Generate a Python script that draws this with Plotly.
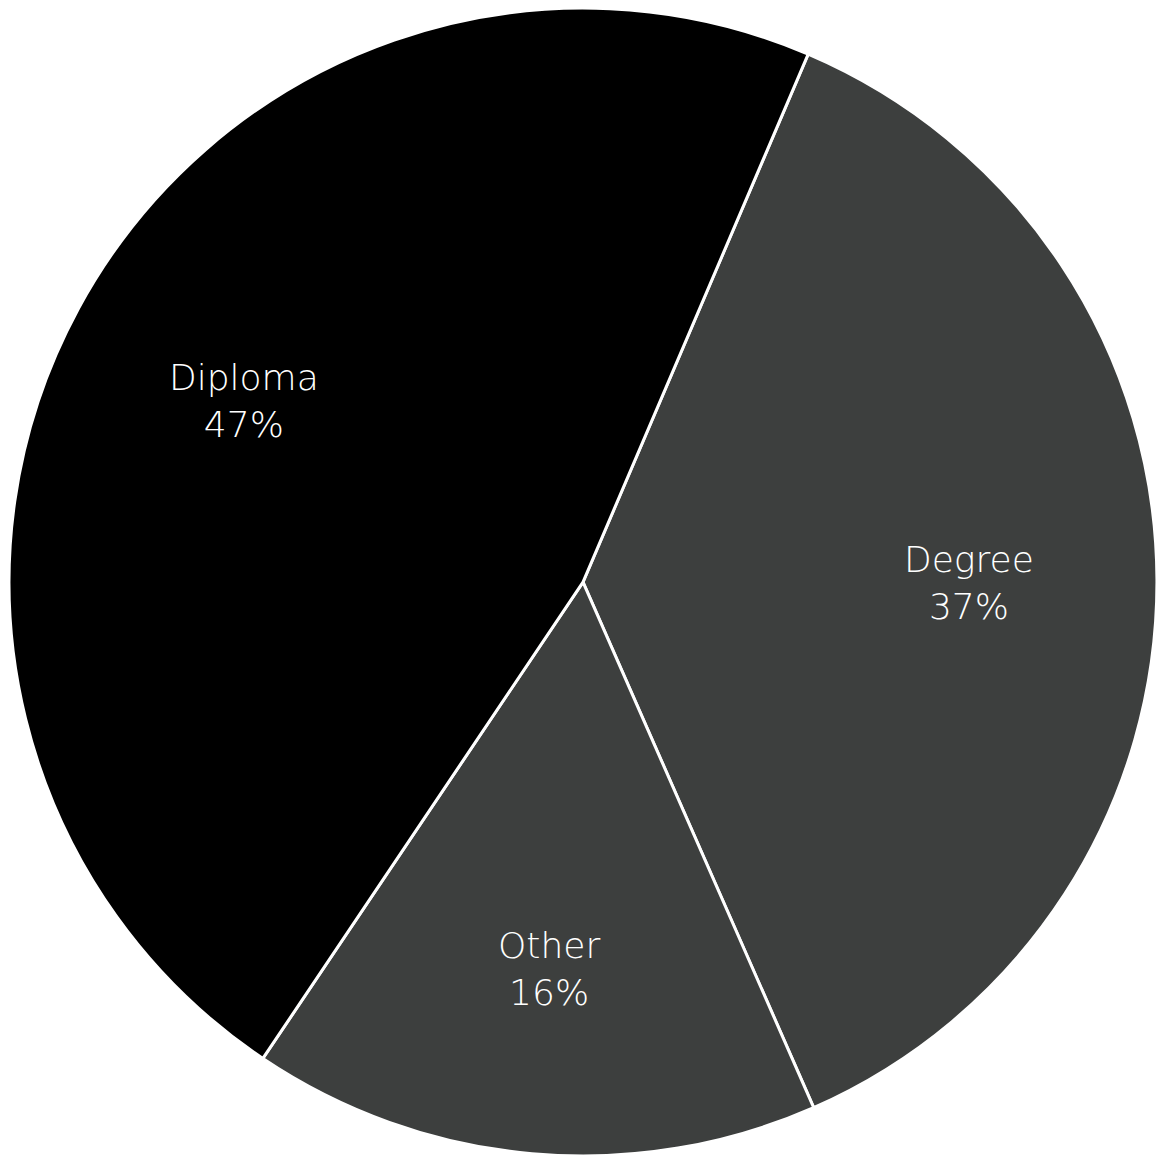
import math
import plotly.graph_objects as go

labels = ["Degree", "Other", "Diploma"]
values = [37, 16, 47]
colors = ["#3d3f3e", "#3d3f3e", "#000000"]
rotation = 23.1

fig = go.Figure(go.Pie(
    labels=labels,
    values=values,
    sort=False,
    direction="clockwise",
    rotation=rotation,
    marker=dict(colors=colors, line=dict(color="#ffffff", width=3)),
    textinfo="none",
    showlegend=False,
    hoverinfo="skip",
    domain=dict(x=[0.0069, 1.0], y=[0.0, 0.993]),
))

# label positions: at ~0.67 of radius along each slice's mid-angle
W, H = 1158, 1156
cx, cy, r = 583, 583, 574
total = sum(values)
start = rotation
for lab, v in zip(labels, values):
    span = v / total * 360
    mid = math.radians(start + span / 2)
    px = cx + 0.672 * r * math.sin(mid)
    py = cy + 2 - 0.672 * r * math.cos(mid)
    fig.add_annotation(
        x=px / W, y=1 - py / H, xref="paper", yref="paper",
        xanchor="center", yanchor="middle",
        text=f"{lab}<br>{round(v / total * 100)}%",
        showarrow=False,
        font=dict(family="DejaVu Sans ExtraLight, DejaVu Sans", size=36, color="#ffffff", weight=300),
        align="center",
    )
    start += span

fig.update_layout(
    width=W, height=H,
    margin=dict(l=0, r=0, t=0, b=0),
    paper_bgcolor="#ffffff",
    plot_bgcolor="#ffffff",
)
fig.write_html("out.html")
